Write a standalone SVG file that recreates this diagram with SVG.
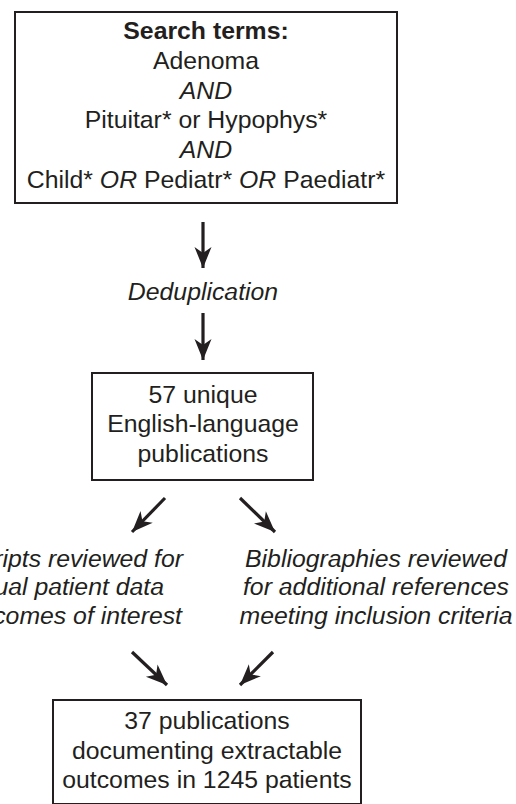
<svg xmlns="http://www.w3.org/2000/svg" width="516" height="804" viewBox="0 0 516 804">
<defs>
<style>
text{font-family:"Liberation Sans",Arial,Helvetica,sans-serif;font-size:24.8px;fill:#231f20;text-anchor:middle}
.b{font-weight:bold}
.i{font-style:italic}
.e{text-anchor:end}
.box{fill:#fff;stroke:#231f20;stroke-width:2}
.arr{stroke:#231f20;stroke-width:3.2;fill:none;marker-end:url(#ah)}
</style>
<marker id="ah" markerUnits="userSpaceOnUse" viewBox="-22 -10 24 20" refX="0" refY="0" markerWidth="24" markerHeight="20" orient="auto">
<path d="M0,0 L-21,-8.5 L-15,0 L-21,8.5 Z" fill="#231f20"/>
</marker>
</defs>
<rect width="516" height="804" fill="#fff"/>
<g id="search">
<rect class="box" x="15" y="12" width="382" height="191"/>
<text x="206" y="39" class="b">Search terms:</text>
<text x="206" y="69">Adenoma</text>
<text x="206" y="99" class="i">AND</text>
<text x="206" y="128">Pituitar* or Hypophys*</text>
<text x="206" y="158" class="i">AND</text>
<text x="206" y="188">Child* <tspan class="i">OR</tspan> Pediatr* <tspan class="i">OR</tspan> Paediatr*</text>
</g>
<g id="dedup">
<text x="203" y="300" class="i">Deduplication</text>
</g>
<g id="unique">
<rect class="box" x="92" y="373" width="221" height="107"/>
<text x="203" y="403">57 unique</text>
<text x="203" y="432">English-language</text>
<text x="203" y="462">publications</text>
</g>
<g id="manuscripts">
<text x="183" y="567" class="i e">ripts reviewed for</text>
<text x="164" y="595" class="i e">ual patient data</text>
<text x="182" y="624" class="i e">comes of interest</text>
</g>
<g id="bibliographies">
<text x="376" y="567" class="i">Bibliographies reviewed</text>
<text x="376" y="595" class="i">for additional references</text>
<text x="376" y="624" class="i">meeting inclusion criteria</text>
</g>
<g id="final">
<rect class="box" x="53" y="700" width="308" height="104"/>
<text x="207" y="729">37 publications</text>
<text x="207" y="759">documenting extractable</text>
<text x="207" y="788">outcomes in 1245 patients</text>
</g>
<g id="connectors">
<line class="arr" x1="203" y1="222" x2="203" y2="268"/>
<line class="arr" x1="203" y1="313" x2="203" y2="360"/>
<line class="arr" x1="165" y1="498" x2="132" y2="532"/>
<line class="arr" x1="240" y1="498" x2="275" y2="532"/>
<line class="arr" x1="132" y1="652" x2="167" y2="685"/>
<line class="arr" x1="273" y1="652" x2="240" y2="685"/>
</g>
</svg>
